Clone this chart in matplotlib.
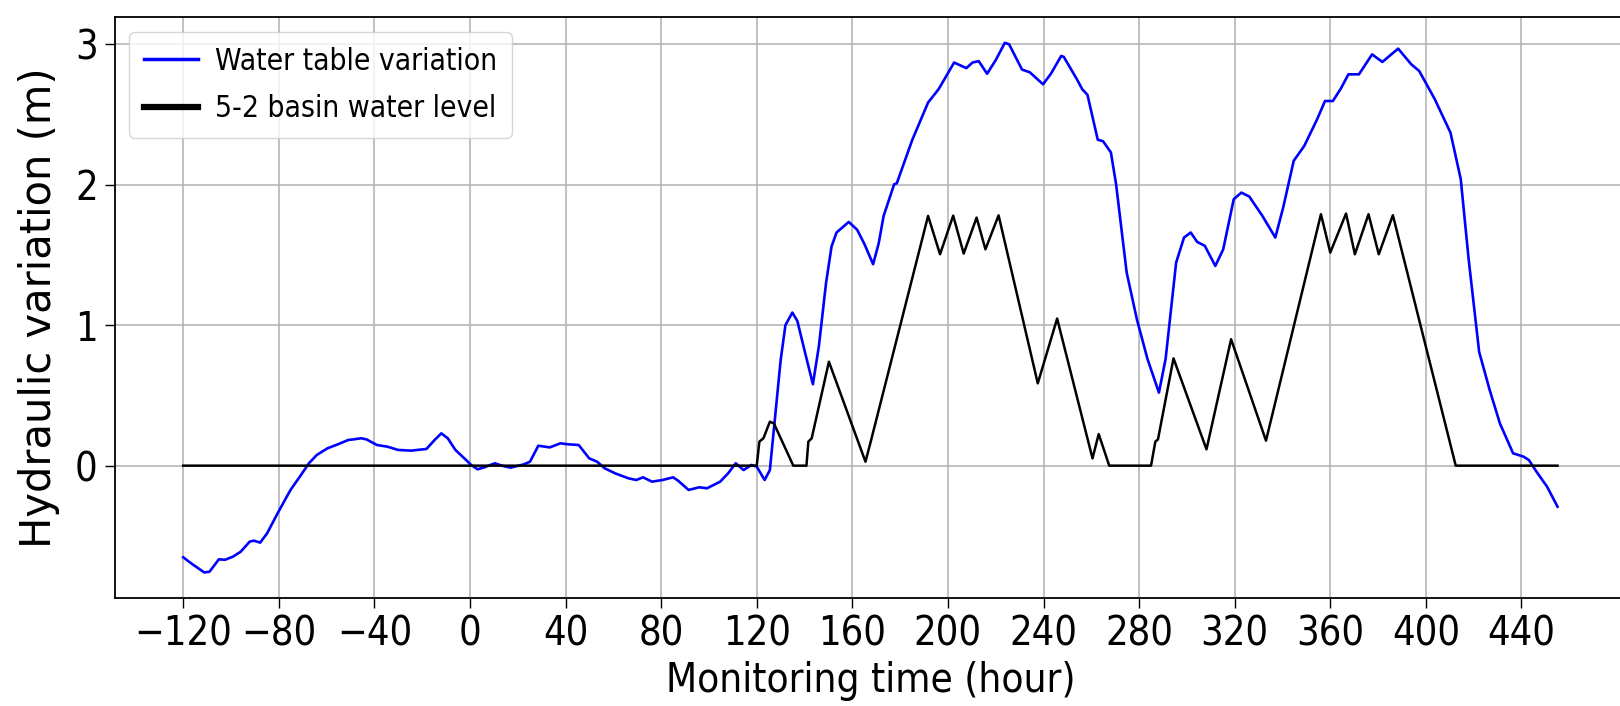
import matplotlib
matplotlib.use("Agg")
import matplotlib.pyplot as plt
from matplotlib import font_manager

# Water table variation (blue), hours vs metres
blue_t = [-120, -116.7, -111.2, -109, -105.1, -102.5, -99.2, -95.9, -92.2, -90.4,
          -87.8, -84.9, -80.5, -75.1, -70.7, -67.4, -64.1, -59.7, -55.3, -50.9,
          -48.8, -45.5, -43.3, -38.9, -34.5, -30.1, -24.7, -18.2, -14.8, -12.0,
          -9.3, -6.1, -1.6, 0.5, 3.2, 6.0, 10.4, 13.7, 17.0, 22.5,
          25.1, 28.6, 33.4, 37.8, 41.1, 45.5, 49.9, 53.2, 56.4, 60.8,
          66.3, 69.6, 72.4, 76.2, 80.6, 85.0, 87.1, 91.5, 95.9, 99.2,
          104.7, 108.0, 111.2, 114.5, 117.8, 120.0, 123.3, 125.5, 127.7, 130,
          132, 134.9, 137, 140, 143.5, 146, 149, 151.3, 153.4, 158.5,
          162, 165, 168.7, 171, 173.1, 177.5, 178.6, 185.1, 191.7, 196.1,
          202.6, 207.7, 210.3, 212.9, 216.4, 220.1, 223.8, 225.6, 231.0, 234.3,
          239.8, 243.1, 247.4, 248.5, 254.0, 256.2, 258.4, 262.7, 264.9, 268.2,
          270.4, 274.8, 279.1, 283.5, 288.3, 291.1, 295.5, 298.8, 301.6, 304.3,
          307.5, 311.9, 315.2, 319.6, 322.8, 326.1, 331.6, 337.0, 340.3, 344.7,
          349.1, 354.5, 357.8, 361.1, 364.4, 367.6, 372.0, 377.5, 381.8, 388.4,
          393.9, 397.2, 403.7, 410.3, 414.6, 417.9, 422.3, 426.7, 431.0, 436.5,
          440.9, 443.1, 446.3, 450.7, 455.1]
blue_h = [-0.652, -0.695, -0.76, -0.755, -0.667, -0.67, -0.648, -0.612, -0.541, -0.534,
          -0.548, -0.482, -0.339, -0.173, -0.066, 0.017, 0.076, 0.123, 0.152, 0.183,
          0.187, 0.195, 0.187, 0.147, 0.135, 0.112, 0.107, 0.119, 0.183, 0.23,
          0.195, 0.112, 0.04, 0.005, -0.026, -0.012, 0.017, -0.002, -0.014, 0.009,
          0.028, 0.142, 0.13, 0.159, 0.152, 0.147, 0.052, 0.028, -0.019, -0.055,
          -0.09, -0.102, -0.083, -0.114, -0.102, -0.083, -0.107, -0.173, -0.154, -0.161,
          -0.114, -0.055, 0.017, -0.031, 0.005, -0.007, -0.102, -0.031, 0.35, 0.75,
          1.0, 1.09, 1.03, 0.82, 0.58, 0.85, 1.3, 1.56, 1.66, 1.735,
          1.68, 1.58, 1.434, 1.58, 1.778, 2.003, 2.01, 2.32, 2.585, 2.68,
          2.87, 2.83, 2.87, 2.88, 2.79, 2.89, 3.01, 3.0, 2.82, 2.80,
          2.715, 2.79, 2.917, 2.91, 2.75, 2.68, 2.64, 2.32, 2.31, 2.23,
          2.00, 1.375, 1.04, 0.76, 0.52, 0.76, 1.446, 1.624, 1.66, 1.593,
          1.565, 1.422, 1.54, 1.897, 1.944, 1.916, 1.778, 1.624, 1.838, 2.17,
          2.276, 2.466, 2.596, 2.596, 2.684, 2.786, 2.786, 2.928, 2.874, 2.969,
          2.857, 2.81, 2.61, 2.371, 2.04, 1.47, 0.81, 0.539, 0.30, 0.088,
          0.064, 0.04, -0.043, -0.149, -0.292]

# 5-2 basin water level (black)
basin_t = [-120, 120, 121.1, 122.8, 125.5, 127.2, 135.3, 140.8, 141.6, 143.0,
           150.2, 165.5, 167.7, 191.7, 196.7, 202.2, 206.6, 212.0, 215.7, 221.2,
           237.6, 245.7, 260.5, 263.1, 267.5, 285.0, 286.8, 287.9, 294.4, 308.2,
           318.5, 333.1, 356.1, 360.0, 366.6, 370.3, 376.0, 380.3, 386.2, 412.5,
           455.1]
basin_h = [0, 0, 0.171, 0.195, 0.313, 0.30, 0, 0, 0.171, 0.195,
           0.74, 0.028, 0.171, 1.778, 1.505, 1.78, 1.51, 1.766, 1.54, 1.782,
           0.586, 1.047, 0.052, 0.225, 0, 0, 0.171, 0.187, 0.764, 0.116,
           0.90, 0.178, 1.79, 1.517, 1.795, 1.505, 1.79, 1.505, 1.783, 0,
           0]

x_ticks = list(range(-120, 441, 40))
y_ticks = [0, 1, 2, 3]

# use condensed DejaVu if it is installed
has_condensed = any(f.name == "DejaVu Sans" and f.stretch == "condensed"
                    for f in font_manager.fontManager.ttflist)
k = 1.0 if has_condensed else 0.91
plt.rcParams["font.family"] = "DejaVu Sans"
plt.rcParams["font.stretch"] = "condensed"

fig = plt.figure(figsize=(16.2, 7.06), dpi=100)
ax = fig.add_axes([114.5 / 1620, 0.1534, (1626 - 114.5) / 1620, 0.8229])

ax.plot(blue_t, blue_h, color="b", lw=1.9, label="Water table variation", zorder=3)
ax.plot(basin_t, basin_h, color="k", lw=1.8, label="5-2 basin water level", zorder=3)

ax.set_xlim(-148.75, 483.75)
ax.set_ylim(-0.94, 3.196)
ax.set_xticks(x_ticks)
ax.set_yticks(y_ticks)
ax.grid(True, color="#b0b0b0", lw=1.1)
ax.set_axisbelow(True)
ax.tick_params(labelsize=28.5 * k, length=7, width=1, pad=5)
for s in ax.spines.values():
    s.set_linewidth(1.3)

ax.set_xlabel("Monitoring time (hour)", fontsize=29 * k, labelpad=5)
ax.set_ylabel("Hydraulic variation (m)", fontsize=30, fontstretch="normal", labelpad=11)

leg = ax.legend(loc="upper left", fontsize=21.5 * k, handlelength=1.8,
                handletextpad=0.55, borderpad=0.5, labelspacing=0.62)
leg.get_lines()[0].set_linewidth(2.5)
leg.get_lines()[1].set_linewidth(4.5)

fig.savefig("out.png", dpi=100)
